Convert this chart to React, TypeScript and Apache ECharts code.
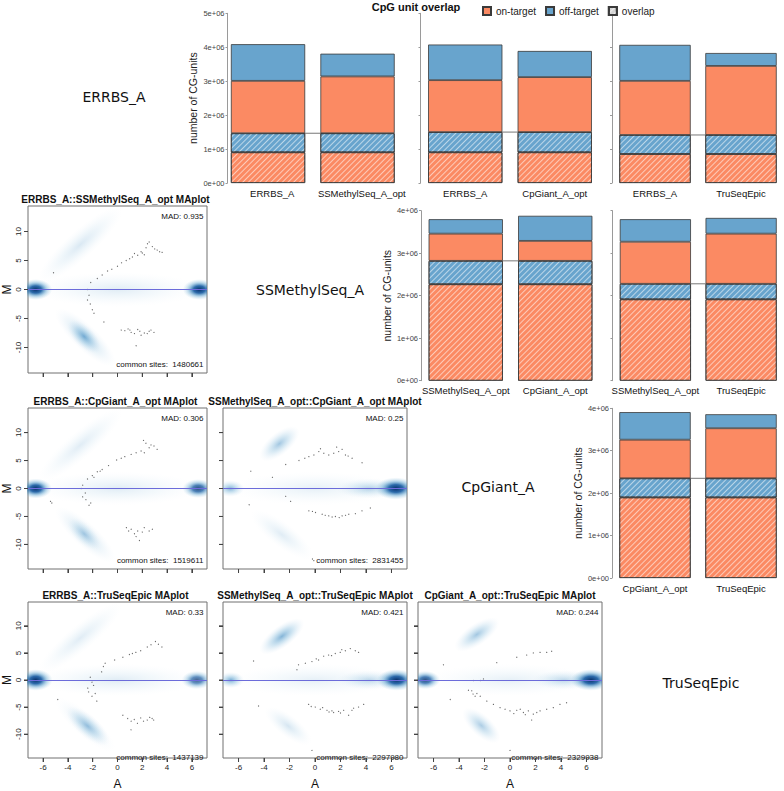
import React, { useEffect, useRef } from 'react';
import * as echarts from 'echarts';

// ---------- DATA ----------
const diagLabels = ['ERRBS_A', 'SSMethylSeq_A', 'CpGiant_A', 'TruSeqEpic'];
const barNames = ['ERRBS_A', 'SSMethylSeq_A_opt', 'CpGiant_A_opt', 'TruSeqEpic'];

// bar comparisons (upper triangle) [sampleA, sampleB]
const barPairs = [[0, 1], [0, 2], [0, 3], [1, 2], [1, 3], [2, 3]];
const overlapOn = [905000, 905000, 855000, 2270000, 1915000, 1900000];
const overlapOff = [561000, 595000, 560000, 550000, 365000, 450000];
const uniqueOnA = [1544000, 1530000, 1595000, 640000, 990000, 910000];
const uniqueOffA = [1080000, 1050000, 1060000, 340000, 530000, 650000];
const uniqueOnB = [1674000, 1620000, 2035000, 470000, 1180000, 1180000];
const uniqueOffB = [670000, 770000, 380000, 590000, 370000, 330000];
const barAxisMax = [5e6, 5e6, 5e6, 4e6, 4e6, 4e6];

// MA plots (lower triangle)
const maPairs = [[0, 1], [0, 2], [1, 2], [0, 3], [1, 3], [2, 3]];
const maTitles = [
  'ERRBS_A::SSMethylSeq_A_opt MAplot',
  'ERRBS_A::CpGiant_A_opt MAplot',
  'SSMethylSeq_A_opt::CpGiant_A_opt MAplot',
  'ERRBS_A::TruSeqEpic MAplot',
  'SSMethylSeq_A_opt::TruSeqEpic MAplot',
  'CpGiant_A_opt::TruSeqEpic MAplot',
];
const madValues = ['0.935', '0.306', '0.25', '0.33', '0.421', '0.244'];
const commonSites = [1480661, 1519611, 2831455, 1437139, 2297980, 2329938];
const A_TICKS = [-6, -4, -2, 0, 2, 4, 6];
const M_TICKS = [-10, -5, 0, 5, 10];

// density blobs: [A1, M1, A2, M2, spread (M units), density]
const blobs0 = [
  [-5.5, 0, 5.5, 0, 3.0, 0.15], [-5.5, 3, -0.5, 12.5, 2.4, 0.18], [-4.2, -5, -1, -11.5, 2.2, 0.3],
  [-3.3, -6.8, -2.1, -9.4, 1.8, 0.55], [-7.1, 0, -6.1, 0, 1.8, 1.0], [6.1, 0, 7.1, 0, 1.8, 1.0],
];
const blobs1 = [
  [-5.5, 0, 5.5, 0, 3.0, 0.15], [-5.5, 3, -0.5, 12.5, 2.4, 0.15], [-4.2, -5, -1, -11.5, 2.2, 0.25],
  [-3.3, -6.8, -2.1, -9.4, 1.8, 0.3], [-7.1, 0, -6.1, 0, 1.8, 1.0], [6.0, 0, 7.0, 0, 1.7, 0.85],
];
const blobs2 = [
  [-5.5, 0, 5.5, 0, 3.0, 0.12], [2.5, 0, 6, 0, 1.8, 0.35], [-3.6, 6.5, -2, 9.5, 2.0, 0.45],
  [-4.2, -5.5, -1, -11, 2.2, 0.15], [-7.1, 0, -6.2, 0, 1.5, 0.6], [5.6, 0, 7.1, 0, 2.0, 1.0],
];
const blobs3 = [
  [-5.5, 0, 5.5, 0, 3.0, 0.15], [-5.5, 3, -0.5, 12.5, 2.4, 0.15], [-4.2, -5, -1, -11.5, 2.2, 0.15],
  [-3.4, -6.5, -1.4, -10.5, 2.0, 0.45], [-7.1, 0, -6.1, 0, 2.0, 1.0], [5.9, 0, 6.9, 0, 1.7, 0.75],
];
const blobs4 = [
  [-5.5, 0, 5.5, 0, 3.0, 0.12], [2.5, 0, 6, 0, 1.8, 0.3], [-3.6, 6.3, -1.6, 9.8, 2.0, 0.6],
  [-3.2, -6.5, -1, -10.5, 2.0, 0.2], [-7.0, 0, -6.2, 0, 1.5, 0.65], [5.7, 0, 7.1, 0, 2.0, 1.0],
];
const blobs5 = [
  [-5.5, 0, 5.5, 0, 3.0, 0.12], [2.5, 0, 6, 0, 1.8, 0.3], [-3.6, 6.8, -1.6, 10, 2.0, 0.45],
  [-3, -6.8, -1.5, -10, 2.0, 0.4], [-7.1, 0, -6.2, 0, 1.7, 0.85], [5.6, 0, 7.1, 0, 2.0, 1.0],
];
const maBlobs = [blobs0, blobs1, blobs2, blobs3, blobs4, blobs5];

// outlier points [A, M]
const dots0 = [
  [-2.42, 0], [-2.16, 1.2], [-1.63, 1.9], [-1.24, 2.5], [-0.8, 3.2], [-0.46, 3.5], [0.0, 4.0], [0.33, 4.6], [0.7, 5.0],
  [0.98, 5.3], [1.2, 5.6], [1.37, 6.2], [1.63, 5.9], [1.9, 6.5], [2.0, 6.3], [2.16, 6.0], [2.3, 7.2], [2.42, 7.9],
  [2.55, 8.2], [2.81, 7.4], [3.0, 7.0], [3.2, 6.8], [3.4, 6.5], [3.6, 6.4], [-5.16, 2.9], [-2.3, -1.0], [-2.42, -1.8],
  [-2.2, -2.5], [-2.03, -3.5], [-1.9, -4.1], [-1.1, -5.6], [0.3, -7.0], [0.59, -7.1], [0.85, -6.8], [1.0, -7.0],
  [1.1, -7.4], [1.37, -7.6], [1.63, -6.9], [1.8, -7.2], [1.9, -7.9], [2.16, -7.5], [2.4, -7.6], [2.55, -7.2],
  [2.7, -7.0], [2.94, -7.4], [1.5, -9.7],
];
const dots1 = [
  [-2.94, 0], [-2.81, 0.6], [-2.42, 1.7], [-2.03, 2.3], [-1.9, 2.0], [-1.63, 3.0], [-1.4, 3.1], [-1.24, 3.4],
  [-0.72, 4.1], [-0.07, 5.1], [0.3, 5.4], [0.59, 5.7], [1.1, 6.1], [1.5, 6.4], [1.9, 6.7], [2.16, 6.4], [2.29, 8.1],
  [2.1, 8.6], [2.55, 7.3], [2.7, 7.8], [2.94, 7.6], [3.2, 7.0], [-2.6, -0.8], [-2.81, -1.5], [-2.55, -2.0],
  [-2.16, -2.6], [-2.3, -3.0], [-5.3, -2.6], [-5.4, -2.3], [0.72, -7.0], [0.9, -7.6], [1.1, -7.3], [1.37, -8.1],
  [1.5, -8.6], [1.63, -7.6], [1.77, -9.3], [2.0, -7.8], [2.16, -7.0], [2.55, -7.6], [2.81, -7.3],
];
const dots2 = [
  [-5.04, 3.1], [-3.34, 2.0], [-2.3, 4.3], [-1.26, 5.0], [-0.8, 5.4], [-0.48, 5.7], [-0.09, 6.0], [0.3, 6.6],
  [0.43, 7.1], [0.69, 6.3], [1.08, 6.0], [1.47, 6.3], [1.7, 7.4], [1.86, 6.6], [2.13, 7.0], [2.39, 6.0], [2.6, 5.8],
  [2.91, 5.4], [3.69, 4.6], [-5.17, -2.9], [-2.3, -1.4], [-1.91, -2.3], [-0.48, -4.0], [-0.2, -4.1], [0.04, -4.3],
  [0.56, -4.6], [0.8, -4.8], [1.08, -4.9], [1.34, -5.1], [1.6, -5.0], [1.9, -5.2], [2.13, -4.9], [2.4, -4.8],
  [2.65, -4.6], [3.17, -4.5], [3.69, -4.0], [4.34, -3.5], [-0.09, -12.9], [-0.2, -12.6],
];
const dots3 = [
  [-2.2, 0.5], [-2.06, -0.4], [-1.93, -1.0], [-2.4, -1.5], [-2.33, -2.2], [-1.8, -2.5], [-2.06, -3.0], [-1.67, -3.9],
  [-1.28, 1.5], [-1.14, 2.5], [-1.0, 3.1], [-0.23, 3.7], [0.43, 4.2], [0.96, 4.7], [1.2, 4.9], [1.48, 5.1],
  [1.87, 5.4], [2.4, 6.1], [2.7, 6.5], [3.06, 7.1], [3.3, 6.6], [3.58, 6.1], [-4.82, -3.6], [0.43, -6.5],
  [0.82, -7.1], [1.1, -7.6], [1.09, -9.2], [1.35, -7.3], [1.61, -8.0], [1.87, -7.0], [2.1, -7.6], [2.4, -7.4],
  [2.6, -6.9], [2.79, -7.1], [2.92, -7.4],
];
const dots4 = [
  [-4.82, 3.5], [-4.43, -4.8], [-1.42, 1.9], [-1.29, 2.8], [-0.76, 3.1], [-0.24, 3.4], [0.1, 3.9], [0.28, 3.7],
  [0.68, 4.4], [1.07, 4.6], [1.3, 4.5], [1.59, 4.9], [1.98, 5.1], [2.1, 5.6], [2.38, 5.4], [2.77, 5.8], [3.16, 5.4],
  [3.42, 5.1], [-0.5, -4.5], [-0.3, -4.9], [0.02, -5.0], [0.41, -5.4], [0.6, -5.1], [0.94, -5.6], [1.1, -5.9],
  [1.33, -5.7], [1.46, -6.0], [1.85, -5.8], [2.0, -6.1], [2.25, -5.6], [2.64, -6.5], [2.9, -5.6], [3.03, -5.2],
  [3.42, -5.0], [3.82, -4.5], [-0.24, -13.0],
];
const dots5 = [
  [-5.22, 2.8], [-1.04, 3.2], [0.53, 4.2], [1.31, 4.6], [1.83, 5.0], [2.36, 5.1], [2.88, 5.1], [3.27, 5.3],
  [-2.87, -0.1], [-2.34, -0.1], [-2.08, 0.2], [-4.69, -3.6], [-3.26, -1.9], [-3.0, -2.0], [-2.9, -2.6],
  [-2.74, -3.0], [-2.6, -2.5], [-2.34, -3.0], [-1.82, -3.9], [-1.3, -4.5], [-0.78, -5.1], [-0.39, -5.4], [0.0, -5.7],
  [0.3, -6.2], [0.53, -5.6], [0.8, -5.4], [1.05, -6.0], [1.2, -6.4], [1.44, -5.7], [1.7, -7.4], [1.83, -6.3],
  [2.1, -6.0], [2.36, -5.7], [2.88, -5.4], [3.4, -5.1], [3.92, -4.5], [4.44, -4.2], [0.0, -13.0],
];
const maDots = [dots0, dots1, dots2, dots3, dots4, dots5];

// ---------- LAYOUT / STYLE ----------
const SANS = 'Liberation Sans, Arial, Helvetica, sans-serif';
const ORANGE = '#FB8A63';
const BLUE = '#68A4CD';
const TICK_LEN = 4;
const HATCH = {
  symbol: 'rect',
  symbolSize: 1,
  dashArrayX: [1, 0],
  dashArrayY: [0.9, 2.6],
  rotation: -Math.PI / 4,
  color: 'rgba(255,255,255,0.55)',
};

const barLayout = [
  { left: 227.5, top: 13.3, height: 169.7, labels: true },
  { left: 420.5, top: 13.3, height: 169.7, labels: false },
  { left: 612, top: 13.3, height: 169.7, labels: false },
  { left: 421, top: 210.7, height: 170, labels: true },
  { left: 612.5, top: 210.7, height: 170, labels: false },
  { left: 612, top: 408.3, height: 169.7, labels: true },
];
const BAR_GRID_W = 179;

const maCols = [{ left: 24, w: 183 }, { left: 223, w: 184 }, { left: 418, w: 184 }];
const maRows = [{ top: 206, h: 167 }, { top: 408, h: 161 }, { top: 602, h: 164 }];
const maCell = [[0, 0], [1, 0], [1, 1], [2, 0], [2, 1], [2, 2]]; // [rowIdx, colIdx]

const diagPos = [[114, 97], [310, 290], [498, 487], [701, 683]];

function sci(v: number) {
  if (v === 0) return '0e+00';
  return `${Math.round(v / 1e6)}e+06`;
}

function blobFill(a: number) {
  if (a >= 0.7) {
    return new echarts.graphic.RadialGradient(0.5, 0.5, 0.5, [
      { offset: 0, color: `rgba(8,48,107,${a})` },
      { offset: 0.35, color: `rgba(8,81,156,${0.85 * a})` },
      { offset: 0.65, color: `rgba(66,146,198,${0.4 * a})` },
      { offset: 1, color: 'rgba(158,202,225,0)' },
    ]);
  }
  return new echarts.graphic.RadialGradient(0.5, 0.5, 0.5, [
    { offset: 0, color: `rgba(49,130,189,${a})` },
    { offset: 0.5, color: `rgba(107,174,214,${0.5 * a})` },
    { offset: 1, color: 'rgba(198,219,239,0)' },
  ]);
}

function renderBlob(params: any, api: any) {
  const p1 = api.coord([api.value(0), api.value(1)]);
  const p2 = api.coord([api.value(2), api.value(3)]);
  const w = Math.abs(api.size([0, api.value(4)])[1]);
  const a = api.value(5);
  const cx = (p1[0] + p2[0]) / 2;
  const cy = (p1[1] + p2[1]) / 2;
  const half = Math.hypot(p2[0] - p1[0], p2[1] - p1[1]) / 2 + w;
  const ang = Math.atan2(p2[1] - p1[1], p2[0] - p1[0]);
  return {
    type: 'circle',
    x: cx,
    y: cy,
    rotation: -ang,
    scaleX: half / 10,
    scaleY: w / 10,
    shape: { cx: 0, cy: 0, r: 10 },
    style: { fill: blobFill(a) },
  };
}

// outward tick marks along the bottom (A) and left (M) edges of an MA frame
function renderXTick(params: any, api: any) {
  const cs = params.coordSys;
  const p = api.coord([api.value(0), api.value(1)]);
  const yb = cs.y + cs.height;
  return {
    type: 'line',
    shape: { x1: p[0], y1: yb, x2: p[0], y2: yb + TICK_LEN },
    style: { stroke: '#444', lineWidth: 1 },
  };
}
function renderYTick(params: any, api: any) {
  const cs = params.coordSys;
  const p = api.coord([api.value(0), api.value(1)]);
  return {
    type: 'line',
    shape: { x1: cs.x, y1: p[1], x2: cs.x - TICK_LEN, y2: p[1] },
    style: { stroke: '#444', lineWidth: 1 },
  };
}

function buildOption() {
  const grid: any[] = [];
  const xAxis: any[] = [];
  const yAxis: any[] = [];
  const series: any[] = [];
  const graphic: any[] = [];

  // ---- bar charts ----
  barPairs.forEach((p, k) => {
    const L = barLayout[k];
    grid.push({ left: L.left, top: L.top, width: BAR_GRID_W, height: L.height });
    xAxis.push({
      type: 'category', gridIndex: k, data: [barNames[p[0]], barNames[p[1]]],
      axisLine: { show: false }, axisTick: { show: false },
      axisLabel: { fontSize: 9.5, color: '#111', margin: 5, interval: 0, fontFamily: SANS },
    });
    yAxis.push({
      type: 'value', gridIndex: k, min: 0, max: barAxisMax[k], interval: 1e6,
      splitLine: { show: false },
      axisLine: { show: true, lineStyle: { color: '#9a9a9a', width: 1 } },
      axisTick: { show: true, length: 2, lineStyle: { color: '#9a9a9a' } },
      axisLabel: { show: L.labels, fontSize: 7.5, color: '#444', margin: 3, formatter: sci, fontFamily: SANS },
      name: L.labels ? 'number of CG-units' : '',
      nameLocation: 'middle', nameGap: 29,
      nameTextStyle: { fontSize: 10.5, color: '#222', fontFamily: SANS },
    });
    const stack = 'stack' + k;
    const border = { borderColor: '#3a3a3a', borderWidth: 0.8 };
    series.push({
      type: 'bar', name: 'on-target overlap', xAxisIndex: k, yAxisIndex: k, stack, barWidth: '83%',
      data: [overlapOn[k], overlapOn[k]], itemStyle: { color: ORANGE, ...border, decal: HATCH }, z: 3, silent: true,
    });
    series.push({
      type: 'bar', name: 'off-target overlap', xAxisIndex: k, yAxisIndex: k, stack, barWidth: '83%',
      data: [overlapOff[k], overlapOff[k]], itemStyle: { color: BLUE, ...border, decal: HATCH }, z: 3, silent: true,
    });
    series.push({
      type: 'bar', name: 'on-target', xAxisIndex: k, yAxisIndex: k, stack, barWidth: '83%',
      data: [uniqueOnA[k], uniqueOnB[k]], itemStyle: { color: ORANGE, ...border }, z: 3, silent: true,
    });
    series.push({
      type: 'bar', name: 'off-target', xAxisIndex: k, yAxisIndex: k, stack, barWidth: '83%',
      data: [uniqueOffA[k], uniqueOffB[k]], itemStyle: { color: BLUE, ...border }, z: 3, silent: true,
    });
    const ov = overlapOn[k] + overlapOff[k];
    series.push({
      type: 'line', xAxisIndex: k, yAxisIndex: k, data: [ov, ov], symbol: 'none', silent: true,
      lineStyle: { color: '#777', width: 1 }, z: 1,
    });
  });
  // legend-only series
  series.push({
    type: 'bar', name: 'overlap', xAxisIndex: 0, yAxisIndex: 0, data: [],
    itemStyle: { color: '#d4d4d4', borderColor: '#3a3a3a', borderWidth: 0.8, decal: HATCH },
  });

  // ---- MA plots ----
  maPairs.forEach((p, k) => {
    const gi = barPairs.length + k;
    const [ri, ci] = maCell[k];
    const R = maRows[ri];
    const C = maCols[ci];
    const isBottom = ri === 2;
    const isLeft = ci === 0;
    grid.push({
      left: C.left, top: R.top, width: C.w, height: R.h, show: true,
      borderColor: '#707070', borderWidth: 1,
    });
    xAxis.push({
      type: 'value', gridIndex: gi, min: -7.22, max: 7.22, position: 'bottom',
      splitLine: { show: false },
      axisLine: { show: false, onZero: false },
      axisTick: { show: true, length: TICK_LEN, lineStyle: { color: '#444', width: 1 }, customValues: A_TICKS },
      axisLabel: { show: isBottom, customValues: A_TICKS, fontSize: 8, color: '#222', margin: 5, fontFamily: SANS },
      name: isBottom ? 'A' : '', nameLocation: 'middle', nameGap: 20,
      nameTextStyle: { fontSize: 12, color: '#111', fontFamily: SANS },
    });
    yAxis.push({
      type: 'value', gridIndex: gi, min: -14.4, max: 14.4, position: 'left',
      splitLine: { show: false },
      axisLine: { show: false, onZero: false },
      axisTick: { show: true, length: TICK_LEN, lineStyle: { color: '#444', width: 1 }, customValues: M_TICKS },
      axisLabel: { show: isLeft, rotate: 90, customValues: M_TICKS, fontSize: 8, color: '#222', margin: 6, fontFamily: SANS },
      name: isLeft ? 'M' : '', nameLocation: 'middle', nameGap: 15, nameRotate: 90,
      nameTextStyle: { fontSize: 12, color: '#111', fontFamily: SANS },
    });
    series.push({
      type: 'custom', xAxisIndex: gi, yAxisIndex: gi, clip: true, silent: true, z: 1,
      encode: { x: [0, 2], y: [1, 3] },
      data: maBlobs[k], renderItem: renderBlob,
    });
    series.push({
      type: 'custom', xAxisIndex: gi, yAxisIndex: gi, clip: false, silent: true, z: 4,
      data: A_TICKS.map((v) => [v, 0]), renderItem: renderXTick,
    });
    series.push({
      type: 'custom', xAxisIndex: gi, yAxisIndex: gi, clip: false, silent: true, z: 4,
      data: M_TICKS.map((v) => [0, v]), renderItem: renderYTick,
    });
    series.push({
      type: 'scatter', xAxisIndex: gi, yAxisIndex: gi, data: maDots[k], symbolSize: 1.2, silent: true,
      itemStyle: { color: '#444' }, z: 3,
      markLine: {
        silent: true, symbol: 'none', label: { show: false },
        lineStyle: { color: '#6c6cda', width: 1, type: 'solid' },
        data: [{ yAxis: 0 }],
      },
    });
    // texts
    graphic.push({
      type: 'text', x: C.left + C.w / 2, y: R.top - 7,
      style: { text: maTitles[k], textAlign: 'center', textVerticalAlign: 'middle', fontSize: 10, fontWeight: 'bold', fontFamily: SANS, fill: '#111' },
    });
    graphic.push({
      type: 'text', x: C.left + C.w - 3.5, y: R.top + 10,
      style: { text: `MAD: ${madValues[k]}`, textAlign: 'right', textVerticalAlign: 'middle', fontSize: 8, fontFamily: SANS, fill: '#111' },
    });
    graphic.push({
      type: 'text', x: C.left + C.w - 3.5, y: R.top + R.h - 9,
      style: { text: `common sites:  ${commonSites[k]}`, textAlign: 'right', textVerticalAlign: 'middle', fontSize: 8, fontFamily: SANS, fill: '#111' },
    });
  });

  // diagonal sample labels
  diagLabels.forEach((lab, i) => {
    graphic.push({
      type: 'text', x: diagPos[i][0], y: diagPos[i][1],
      style: { text: lab, textAlign: 'center', textVerticalAlign: 'middle', fontSize: 14, fontFamily: 'DejaVu Sans', fill: '#111' },
    });
  });
  // legend title
  graphic.push({
    type: 'text', x: 416, y: 7,
    style: { text: 'CpG unit overlap', textAlign: 'center', textVerticalAlign: 'middle', fontSize: 11, fontWeight: 'bold', fontFamily: SANS, fill: '#111' },
  });

  return {
    animation: false,
    backgroundColor: '#fff',
    textStyle: { fontFamily: SANS },
    legend: {
      data: ['on-target', 'off-target', 'overlap'],
      selectedMode: false,
      left: 477, top: 1, icon: 'rect', itemWidth: 8, itemHeight: 8, itemGap: 9,
      textStyle: { fontSize: 10, color: '#222', fontFamily: SANS },
    },
    grid, xAxis, yAxis, series, graphic,
  };
}

export default function App() {
  const ref = useRef<HTMLDivElement>(null);
  useEffect(() => {
    const chart = echarts.init(ref.current!, null, { renderer: 'svg' });
    chart.setOption(buildOption() as any);
    return () => chart.dispose();
  }, []);
  return (
    <div
      ref={ref}
      style={{ position: 'absolute', left: 0, top: 0, width: 784, height: 791, background: '#fff' }}
    />
  );
}
